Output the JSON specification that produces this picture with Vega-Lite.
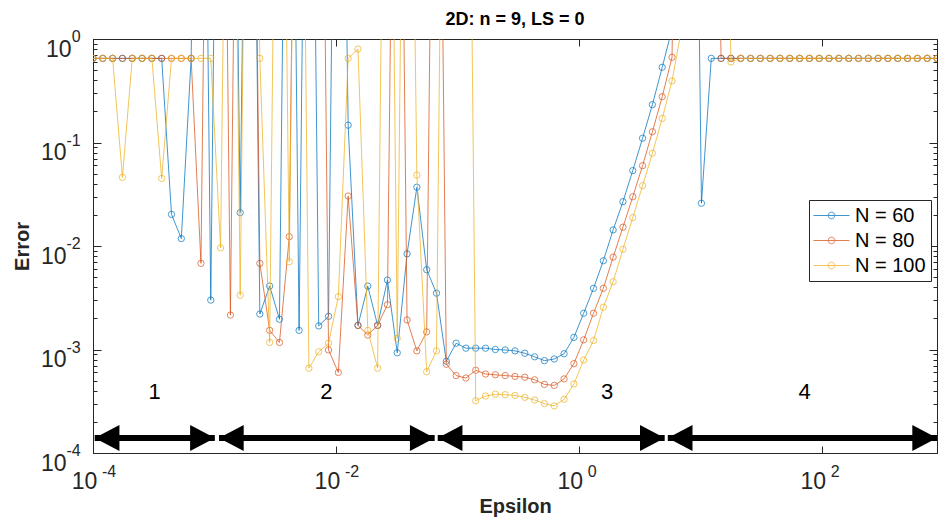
{
  "$schema": "https://vega.github.io/schema/vega-lite/v6.json",
  "width": 844,
  "height": 414,
  "autosize": {"type": "none"},
  "padding": {"left": 93, "top": 39, "right": 1, "bottom": 69},
  "background": "white",
  "config": {
    "view": {"stroke": "#262626", "strokeWidth": 1},
    "font": "Liberation Sans",
    "axis": {"grid": false, "domainColor": "#262626", "tickColor": "#262626", "labelColor": "#262626", "titleColor": "#262626", "labelFont": "Liberation Sans", "titleFont": "Liberation Sans", "labelOverlap": false, "labelFlush": false}
  },
  "title": {"text": "2D: n = 9, LS = 0", "fontSize": 18, "fontWeight": "bold", "color": "#000000", "font": "Liberation Sans", "anchor": "middle", "offset": 0},
  "datasets": {
    "n60": [{"e":0.0001,"v":0.65},{"e":0.0001204,"v":0.65},{"e":0.000145,"v":0.65},{"e":0.0001747,"v":0.65},{"e":0.0002104,"v":0.65},{"e":0.0002535,"v":0.65},{"e":0.0003053,"v":0.65},{"e":0.0003677,"v":0.65},{"e":0.0004429,"v":0.0202},{"e":0.0005335,"v":0.0118},{"e":0.0006427,"v":0.65},{"e":0.0007741,"v":1000000},{"e":0.0009324,"v":0.003},{"e":0.001123,"v":1000000},{"e":0.001353,"v":1000000},{"e":0.001629,"v":0.021},{"e":0.001963,"v":1000000},{"e":0.002364,"v":0.0022},{"e":0.002848,"v":0.0041},{"e":0.00343,"v":0.00196},{"e":0.00413,"v":1000000},{"e":0.004975,"v":0.00153},{"e":0.005993,"v":1000000},{"e":0.007218,"v":0.00169},{"e":0.008694,"v":0.00209},{"e":0.01047,"v":1000000},{"e":0.01261,"v":0.147},{"e":0.01519,"v":0.00171},{"e":0.0183,"v":0.0041},{"e":0.02204,"v":0.00171},{"e":0.02655,"v":0.00469},{"e":0.03198,"v":0.00093},{"e":0.03852,"v":0.0084},{"e":0.04639,"v":0.037},{"e":0.05588,"v":0.0059},{"e":0.0673,"v":0.0035},{"e":0.08106,"v":0.00077},{"e":0.09763,"v":0.00115},{"e":0.1176,"v":0.00103},{"e":0.1416,"v":0.00103},{"e":0.1706,"v":0.00103},{"e":0.2055,"v":0.001},{"e":0.2475,"v":0.00099},{"e":0.2981,"v":0.00097},{"e":0.3591,"v":0.00092},{"e":0.4325,"v":0.00085},{"e":0.5209,"v":0.00078},{"e":0.6275,"v":0.00081},{"e":0.7558,"v":0.00091},{"e":0.9103,"v":0.00131},{"e":1.0965,"v":0.00224},{"e":1.3207,"v":0.0039},{"e":1.5908,"v":0.0072},{"e":1.9161,"v":0.0143},{"e":2.3079,"v":0.0268},{"e":2.7797,"v":0.0535},{"e":3.3482,"v":0.11},{"e":4.0328,"v":0.232},{"e":4.8574,"v":0.533},{"e":5.8507,"v":1.25},{"e":7.0469,"v":1000000},{"e":8.488,"v":1000000},{"e":10.224,"v":0.0259},{"e":12.314,"v":0.65},{"e":14.833,"v":0.65},{"e":17.865,"v":0.65},{"e":21.52,"v":0.65},{"e":25.92,"v":0.65},{"e":31.22,"v":0.65},{"e":37.6,"v":0.65},{"e":45.29,"v":0.65},{"e":54.55,"v":0.65},{"e":65.71,"v":0.65},{"e":79.14,"v":0.65},{"e":95.33,"v":0.65},{"e":114.8,"v":0.65},{"e":138.3,"v":0.65},{"e":166.6,"v":0.65},{"e":200.7,"v":0.65},{"e":241.7,"v":0.65},{"e":291.1,"v":0.65},{"e":350.6,"v":0.65},{"e":422.3,"v":0.65},{"e":508.7,"v":0.65},{"e":612.7,"v":0.65},{"e":738,"v":0.65},{"e":888.9,"v":0.65}],
    "n80": [{"e":0.0001,"v":0.65},{"e":0.0001204,"v":0.65},{"e":0.000145,"v":0.65},{"e":0.0001747,"v":0.65},{"e":0.0002104,"v":0.65},{"e":0.0002535,"v":0.65},{"e":0.0003053,"v":0.65},{"e":0.0003677,"v":0.65},{"e":0.0004429,"v":0.65},{"e":0.0005335,"v":0.65},{"e":0.0006427,"v":0.65},{"e":0.0007741,"v":0.0068},{"e":0.0009324,"v":1000000},{"e":0.001123,"v":1000000},{"e":0.001353,"v":0.00215},{"e":0.001629,"v":1000000},{"e":0.001963,"v":1000000},{"e":0.002364,"v":0.0068},{"e":0.002848,"v":0.00153},{"e":0.00343,"v":0.00117},{"e":0.00413,"v":0.0123},{"e":0.004975,"v":1000000},{"e":0.005993,"v":1000000},{"e":0.007218,"v":1000000},{"e":0.008694,"v":0.00099},{"e":0.01047,"v":0.0006},{"e":0.01261,"v":0.0304},{"e":0.01519,"v":0.00171},{"e":0.0183,"v":0.00138},{"e":0.02204,"v":0.00171},{"e":0.02655,"v":0.00271},{"e":0.03198,"v":1000000},{"e":0.03852,"v":0.00193},{"e":0.04639,"v":0.00097},{"e":0.05588,"v":0.00148},{"e":0.0673,"v":1000000},{"e":0.08106,"v":0.00072},{"e":0.09763,"v":0.00056},{"e":0.1176,"v":0.00053},{"e":0.1416,"v":0.00063},{"e":0.1706,"v":0.00058},{"e":0.2055,"v":0.00057},{"e":0.2475,"v":0.00056},{"e":0.2981,"v":0.00055},{"e":0.3591,"v":0.00054},{"e":0.4325,"v":0.00051},{"e":0.5209,"v":0.00046},{"e":0.6275,"v":0.00045},{"e":0.7558,"v":0.00052},{"e":0.9103,"v":0.00073},{"e":1.0965,"v":0.00124},{"e":1.3207,"v":0.00224},{"e":1.5908,"v":0.0039},{"e":1.9161,"v":0.0078},{"e":2.3079,"v":0.0152},{"e":2.7797,"v":0.0299},{"e":3.3482,"v":0.0597},{"e":4.0328,"v":0.127},{"e":4.8574,"v":0.277},{"e":5.8507,"v":0.666},{"e":7.0469,"v":1000000},{"e":8.488,"v":1000000},{"e":10.224,"v":1000000},{"e":12.314,"v":1000000},{"e":14.833,"v":0.65},{"e":17.865,"v":0.65},{"e":21.52,"v":0.65},{"e":25.92,"v":0.65},{"e":31.22,"v":0.65},{"e":37.6,"v":0.65},{"e":45.29,"v":0.65},{"e":54.55,"v":0.65},{"e":65.71,"v":0.65},{"e":79.14,"v":0.65},{"e":95.33,"v":0.65},{"e":114.8,"v":0.65},{"e":138.3,"v":0.65},{"e":166.6,"v":0.65},{"e":200.7,"v":0.65},{"e":241.7,"v":0.65},{"e":291.1,"v":0.65},{"e":350.6,"v":0.65},{"e":422.3,"v":0.65},{"e":508.7,"v":0.65},{"e":612.7,"v":0.65},{"e":738,"v":0.65},{"e":888.9,"v":0.65}],
    "n100": [{"e":0.0001,"v":0.65},{"e":0.0001204,"v":0.65},{"e":0.000145,"v":0.65},{"e":0.0001747,"v":0.046},{"e":0.0002104,"v":0.65},{"e":0.0002535,"v":0.65},{"e":0.0003053,"v":0.65},{"e":0.0003677,"v":0.045},{"e":0.0004429,"v":0.65},{"e":0.0005335,"v":0.65},{"e":0.0006427,"v":0.65},{"e":0.0007741,"v":0.65},{"e":0.0009324,"v":0.65},{"e":0.001123,"v":0.0096},{"e":0.001353,"v":1000000},{"e":0.001629,"v":0.00334},{"e":0.001963,"v":1000000},{"e":0.002364,"v":0.65},{"e":0.002848,"v":0.00117},{"e":0.00343,"v":1000000},{"e":0.00413,"v":0.00705},{"e":0.004975,"v":1000000},{"e":0.005993,"v":0.00066},{"e":0.007218,"v":0.00095},{"e":0.008694,"v":0.00115},{"e":0.01047,"v":0.00324},{"e":0.01261,"v":0.65},{"e":0.01519,"v":0.8},{"e":0.0183,"v":0.00153},{"e":0.02204,"v":0.00066},{"e":0.02655,"v":1000000},{"e":0.03198,"v":0.00128},{"e":0.03852,"v":1000000},{"e":0.04639,"v":0.0485},{"e":0.05588,"v":0.00061},{"e":0.0673,"v":0.00097},{"e":0.08106,"v":1000000},{"e":0.09763,"v":1000000},{"e":0.1176,"v":1000000},{"e":0.1416,"v":0.00032},{"e":0.1706,"v":0.000355},{"e":0.2055,"v":0.00037},{"e":0.2475,"v":0.000366},{"e":0.2981,"v":0.00036},{"e":0.3591,"v":0.000345},{"e":0.4325,"v":0.000325},{"e":0.5209,"v":0.0003},{"e":0.6275,"v":0.000285},{"e":0.7558,"v":0.00033},{"e":0.9103,"v":0.000465},{"e":1.0965,"v":0.00079},{"e":1.3207,"v":0.00122},{"e":1.5908,"v":0.00256},{"e":1.9161,"v":0.00452},{"e":2.3079,"v":0.0093},{"e":2.7797,"v":0.0188},{"e":3.3482,"v":0.0383},{"e":4.0328,"v":0.0787},{"e":4.8574,"v":0.171},{"e":5.8507,"v":0.393},{"e":7.0469,"v":1.3},{"e":8.488,"v":1000000},{"e":10.224,"v":1000000},{"e":12.314,"v":1000000},{"e":14.833,"v":1000000},{"e":17.865,"v":0.6},{"e":21.52,"v":0.65},{"e":25.92,"v":0.65},{"e":31.22,"v":0.65},{"e":37.6,"v":0.65},{"e":45.29,"v":0.65},{"e":54.55,"v":0.65},{"e":65.71,"v":0.65},{"e":79.14,"v":0.65},{"e":95.33,"v":0.65},{"e":114.8,"v":0.65},{"e":138.3,"v":0.65},{"e":166.6,"v":0.65},{"e":200.7,"v":0.65},{"e":241.7,"v":0.65},{"e":291.1,"v":0.65},{"e":350.6,"v":0.65},{"e":422.3,"v":0.65},{"e":508.7,"v":0.65},{"e":612.7,"v":0.65},{"e":738,"v":0.65},{"e":888.9,"v":0.65}],
    "shafts": [{"a":0.0001033,"b":0.001007,"y":0.0001396},{"a":0.00109,"b":0.065,"y":0.0001396},{"a":0.0689,"b":5.09,"y":0.0001396},{"a":5.4,"b":888.9,"y":0.0001396}],
    "heads": [{"x":0.0001033,"d":"L","y":0.0001396},{"x":0.001007,"d":"R","y":0.0001396},{"x":0.00109,"d":"L","y":0.0001396},{"x":0.065,"d":"R","y":0.0001396},{"x":0.0689,"d":"L","y":0.0001396},{"x":5.09,"d":"R","y":0.0001396},{"x":5.4,"d":"L","y":0.0001396},{"x":888.9,"d":"R","y":0.0001396}],
    "labels": [{"x":0.000321,"y":0.000388,"t":"1"},{"x":0.00836,"y":0.000388,"t":"2"},{"x":1.71,"y":0.000388,"t":"3"},{"x":72.4,"y":0.000388,"t":"4"}],
    "xexp": [{"x":0.0001,"y":0.000059,"t":"-4"},{"x":0.01,"y":0.000059,"t":"-2"},{"x":1,"y":0.000059,"t":"0"},{"x":100,"y":0.000059,"t":"2"}],
    "yexp": [{"x":0.0000792,"y":1,"t":"0"},{"x":0.0000792,"y":0.1,"t":"-1"},{"x":0.0000792,"y":0.01,"t":"-2"},{"x":0.0000792,"y":0.001,"t":"-3"},{"x":0.0000792,"y":0.0001,"t":"-4"}]
  },
  "resolve": {"axis": {"x": "independent", "y": "independent"}},
  "layer": [
    {
      "data": {"name": "n60"},
      "mark": {"type": "line", "clip": true, "strokeWidth": 1, "opacity": 0.75},
      "encoding": {
        "x": {"field": "e", "type": "quantitative", "scale": {"type": "log", "domain": [0.0001, 888.9], "nice": false},
          "axis": {"orient": "bottom", "values": [0.0001, 0.01, 1, 100], "labelExpr": "'10'", "tickSize": -7, "labelPadding": 42, "labelBaseline": "alphabetic", "labelOffset": -9, "labelFontSize": 23, "title": "Epsilon", "titleFontSize": 20, "titleFontWeight": "bold", "titleY": 59, "titleBaseline": "alphabetic"}},
        "y": {"field": "v", "type": "quantitative", "scale": {"type": "log", "domain": [0.0001, 1], "nice": false},
          "axis": {"orient": "left", "values": [0.0001,0.0002,0.0003,0.0004,0.0005,0.0006,0.0007,0.0008,0.0009,0.001,0.002,0.003,0.004,0.005,0.006,0.007,0.008,0.009,0.01,0.02,0.03,0.04,0.05,0.06,0.07,0.08,0.09,0.1,0.2,0.3,0.4,0.5,0.6,0.7,0.8,0.9,1],
            "labelExpr": "abs(log(datum.value)/LN10 - round(log(datum.value)/LN10)) < 0.001 ? '10' : ''",
            "tickSize": {"condition": {"test": "abs(log(datum.value)/LN10 - round(log(datum.value)/LN10)) < 0.001", "value": -8}, "value": -4},
            "labelPadding": {"condition": {"test": "datum.value > 0.5", "value": 30}, "value": 35},
            "labelBaseline": "alphabetic", "labelOffset": 17,
            "labelFontSize": 23, "title": "Error", "titleFontSize": 20, "titleFontWeight": "bold", "titleX": -65, "titleY": 207, "titleBaseline": "alphabetic"}},
        "color": {"datum": "N = 60", "type": "nominal", "scale": {"domain": ["N = 60", "N = 80", "N = 100"], "range": ["#0072BD", "#D95319", "#EDB120"]},
          "legend": {"orient": "none", "legendX": 716, "legendY": 161, "title": null, "direction": "vertical", "fillColor": "white", "strokeColor": "#262626", "padding": 5, "labelFontSize": 20, "labelColor": "#000000", "labelFont": "Liberation Sans", "symbolType": "M-1.8,0H1.8M0.33,0A0.33,0.33 0 1 1 -0.33,0A0.33,0.33 0 1 1 0.33,0", "symbolSize": 400, "symbolStrokeWidth": 1, "symbolFillColor": "transparent", "symbolOffset": 7, "labelOffset": 13, "rowPadding": 4}}
      }
    },
    {
      "data": {"name": "n60"},
      "mark": {"type": "point", "clip": true, "filled": false, "size": 40, "strokeWidth": 1},
      "encoding": {
        "x": {"field": "e", "type": "quantitative", "axis": null},
        "y": {"field": "v", "type": "quantitative", "axis": null},
        "color": {"datum": "N = 60", "type": "nominal"}
      }
    },
    {
      "data": {"name": "n80"},
      "mark": {"type": "line", "clip": true, "strokeWidth": 1, "opacity": 0.75},
      "encoding": {
        "x": {"field": "e", "type": "quantitative", "axis": null},
        "y": {"field": "v", "type": "quantitative", "axis": null},
        "color": {"datum": "N = 80", "type": "nominal"}
      }
    },
    {
      "data": {"name": "n80"},
      "mark": {"type": "point", "clip": true, "filled": false, "size": 40, "strokeWidth": 1},
      "encoding": {
        "x": {"field": "e", "type": "quantitative", "axis": null},
        "y": {"field": "v", "type": "quantitative", "axis": null},
        "color": {"datum": "N = 80", "type": "nominal"}
      }
    },
    {
      "data": {"name": "n100"},
      "mark": {"type": "line", "clip": true, "strokeWidth": 1, "opacity": 0.75},
      "encoding": {
        "x": {"field": "e", "type": "quantitative", "axis": null},
        "y": {"field": "v", "type": "quantitative", "axis": null},
        "color": {"datum": "N = 100", "type": "nominal"}
      }
    },
    {
      "data": {"name": "n100"},
      "mark": {"type": "point", "clip": true, "filled": false, "size": 40, "strokeWidth": 1},
      "encoding": {
        "x": {"field": "e", "type": "quantitative", "axis": null},
        "y": {"field": "v", "type": "quantitative", "axis": null},
        "color": {"datum": "N = 100", "type": "nominal"}
      }
    },
    {
      "data": {"name": "shafts"},
      "mark": {"type": "rule", "strokeWidth": 6, "color": "#000000"},
      "encoding": {
        "x": {"field": "a", "type": "quantitative", "axis": {"orient": "top", "values": [0.0001, 0.01, 1, 100], "labels": false, "tickSize": -7, "domain": false, "title": null}},
        "x2": {"field": "b"},
        "y": {"field": "y", "type": "quantitative", "axis": {"orient": "right", "values": [0.0001,0.0002,0.0003,0.0004,0.0005,0.0006,0.0007,0.0008,0.0009,0.001,0.002,0.003,0.004,0.005,0.006,0.007,0.008,0.009,0.01,0.02,0.03,0.04,0.05,0.06,0.07,0.08,0.09,0.1,0.2,0.3,0.4,0.5,0.6,0.7,0.8,0.9,1], "labels": false, "domain": false, "title": null,
          "tickSize": {"condition": {"test": "abs(log(datum.value)/LN10 - round(log(datum.value)/LN10)) < 0.001", "value": -8}, "value": -4}}}
      }
    },
    {
      "data": {"name": "heads"},
      "mark": {"type": "point", "filled": true, "size": 676, "color": "#000000", "opacity": 1, "strokeWidth": 0},
      "encoding": {
        "x": {"field": "x", "type": "quantitative", "axis": null},
        "y": {"field": "y", "type": "quantitative", "axis": null},
        "shape": {"field": "d", "type": "nominal", "scale": {"domain": ["L", "R"], "range": ["M1.9,-1L0,0L1.9,1Z", "M-1.9,-1L0,0L-1.9,1Z"]}, "legend": null}
      }
    },
    {
      "data": {"name": "labels"},
      "mark": {"type": "text", "fontSize": 22, "font": "Liberation Sans", "color": "#000000", "align": "center", "baseline": "middle"},
      "encoding": {
        "x": {"field": "x", "type": "quantitative", "axis": null},
        "y": {"field": "y", "type": "quantitative", "axis": null},
        "text": {"field": "t"}
      }
    },
    {
      "data": {"name": "xexp"},
      "mark": {"type": "text", "fontSize": 16, "font": "Liberation Sans", "color": "#262626", "align": "left", "baseline": "alphabetic", "dx": 9},
      "encoding": {
        "x": {"field": "x", "type": "quantitative", "axis": null},
        "y": {"field": "y", "type": "quantitative", "axis": null},
        "text": {"field": "t"}
      }
    },
    {
      "data": {"name": "yexp"},
      "mark": {"type": "text", "fontSize": 16, "font": "Liberation Sans", "color": "#262626", "align": "right", "baseline": "alphabetic", "dy": 3},
      "encoding": {
        "x": {"field": "x", "type": "quantitative", "axis": null},
        "y": {"field": "y", "type": "quantitative", "axis": null},
        "text": {"field": "t"}
      }
    }
  ]
}
